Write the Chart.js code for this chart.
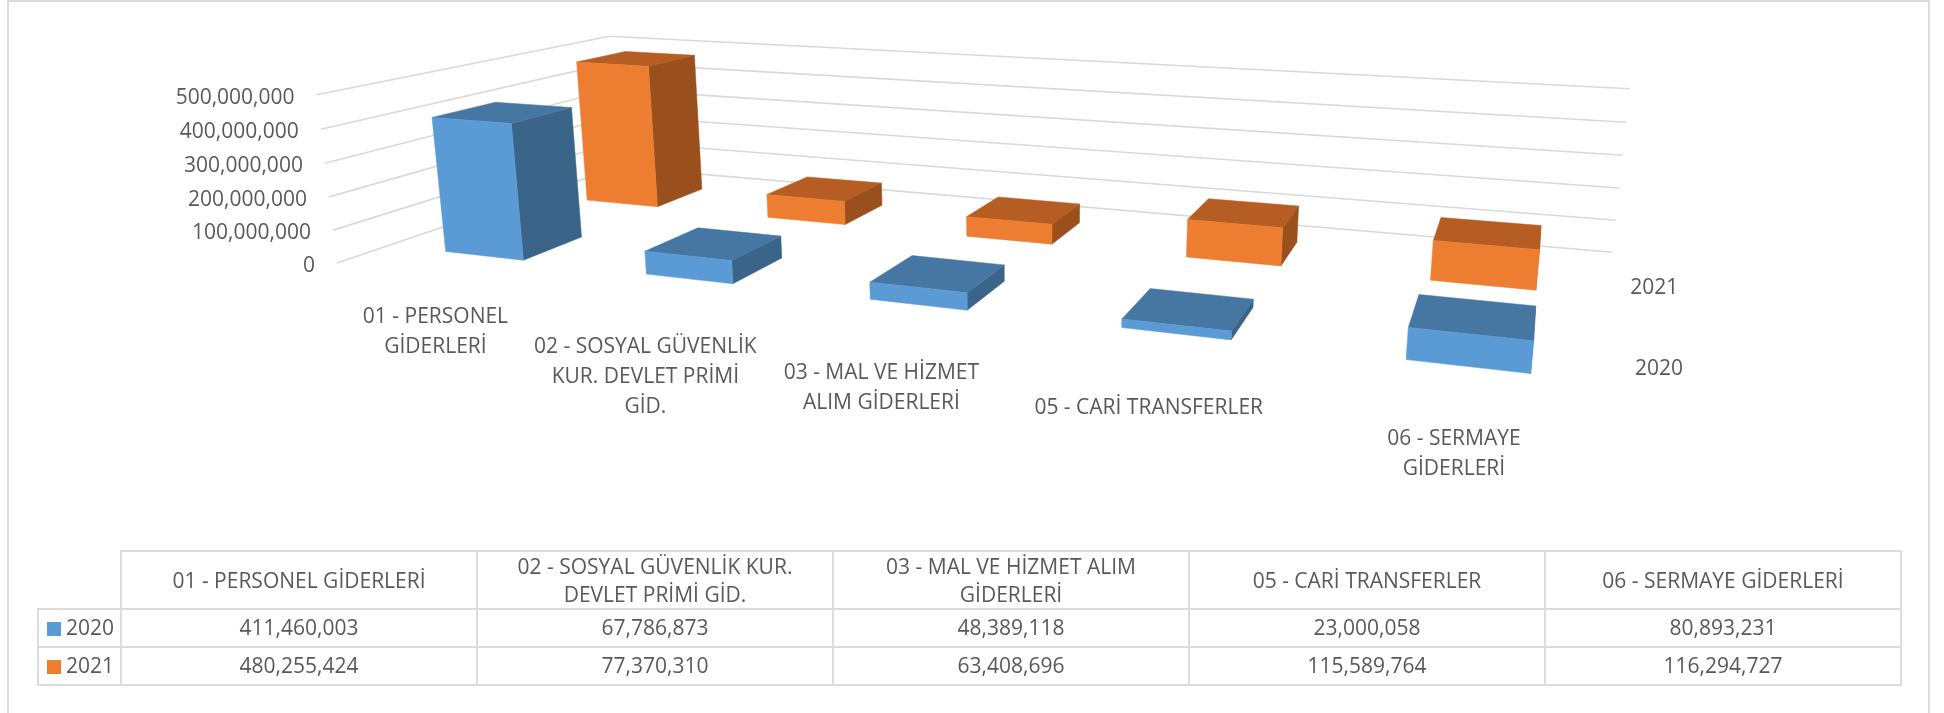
<!DOCTYPE html>
<html lang="tr">
<head>
<meta charset="utf-8">
<title>Giderler 2020 - 2021</title>
<script src="https://cdn.jsdelivr.net/npm/chart.js@4/dist/chart.umd.min.js"></script>
<style>
  html, body { margin: 0; padding: 0; background: #fff; }
  body { width: 1944px; height: 713px; position: relative; overflow: hidden; font-family: "Open Sans", sans-serif; color: #595959; }
  #frame { position: absolute; left: 7px; top: 0; width: 1923px; height: 713px; border: 2px solid #DCDCDC; border-bottom: 0; box-sizing: border-box; }
  #chart { position: absolute; left: 0; top: 0; }
  #dataTable { position: absolute; left: 37px; top: 550px; width: 1865px; table-layout: fixed; border-collapse: collapse; font-size: 21px; line-height: 28px; text-align: center; }
  #dataTable td, #dataTable th { border: 2px solid #DCDCDC; font-weight: 400; box-sizing: border-box; }
  #dataTable th { padding: 0 8px; }
  #dataTable td { padding: 0 8px 3px; }
  #dataTable th.blank { border-top: 0; border-left: 0; }
  #dataTable tr.head { height: 58px; }
  #dataTable tr.row { height: 38px; }
  #dataTable td.name { padding: 0 0 3px 8px; text-align: left; white-space: nowrap; }
  .key { display: inline-block; width: 14px; height: 14px; margin-right: 5px; vertical-align: -1px; }
</style>
</head>
<body>
<div id="frame"></div>
<canvas id="chart" width="1944" height="713"></canvas>
<table id="dataTable"></table>

<script>
// ─── Data ─────────────────────────────────────────────────────────────────────
const categories = [
  '01 - PERSONEL GİDERLERİ',
  '02 - SOSYAL GÜVENLİK KUR. DEVLET PRİMİ GİD.',
  '03 - MAL VE HİZMET ALIM GİDERLERİ',
  '05 - CARİ TRANSFERLER',
  '06 - SERMAYE GİDERLERİ',
];
const categoryLines = [
  ['01 - PERSONEL', 'GİDERLERİ'],
  ['02 - SOSYAL GÜVENLİK', 'KUR. DEVLET PRİMİ', 'GİD.'],
  ['03 - MAL VE HİZMET', 'ALIM GİDERLERİ'],
  ['05 - CARİ TRANSFERLER'],
  ['06 - SERMAYE', 'GİDERLERİ'],
];
const seriesNames = ['2020', '2021'];
const values2020 = [411460003, 67786873, 48389118, 23000058, 80893231];
const values2021 = [480255424, 77370310, 63408696, 115589764, 116294727];

// front / top / side shade of each series
const shades2020 = ['#5B9BD5', '#4677A3', '#3A6488'];
const shades2021 = ['#ED7D31', '#B55D22', '#9A501C'];

// ─── 3D view ──────────────────────────────────────────────────────────────────
// Perspective camera for the unit box: X along categories, Y into the page
// (one half per series), Z up the value axis.
const CAMERA = [
  [859.5, 466, -29.6, 337],
  [43, -46, -171, 263],
  [-0.267, 0.298, -0.029, 1],
];
const BAR_SHARE = 0.4;          // same gap as Excel's 150% gap depth
const LABEL_FONT = '21px "Open Sans"';
const LABEL_DROP = [42, 47, 45, 48, 42];   // category label distance below the floor edge
const TEXT_COLOR = '#595959';
const GRID_COLOR = '#D9D9D9';

function project(X, Y, Z) {
  const [a, b, w] = CAMERA;
  const d = w[0] * X + w[1] * Y + w[2] * Z + w[3];
  return {
    x: (a[0] * X + a[1] * Y + a[2] * Z + a[3]) / d,
    y: (b[0] * X + b[1] * Y + b[2] * Z + b[3]) / d,
  };
}

function fillFace(ctx, color, corners) {
  ctx.beginPath();
  corners.forEach((c, i) => {
    const p = project(c[0], c[1], c[2]);
    if (i === 0) ctx.moveTo(p.x, p.y); else ctx.lineTo(p.x, p.y);
  });
  ctx.closePath();
  ctx.fillStyle = color;
  ctx.strokeStyle = color;
  ctx.lineWidth = 0.5;
  ctx.fill();
  ctx.stroke();
}

// ─── Plugin: walls, boxes and labels ──────────────────────────────────────────
const box3d = {
  id: 'box3d',
  afterDatasetsDraw(chart) {
    const { ctx, chartArea: area, scales } = chart;
    const toX = px => (px - area.left) / area.width;
    const toZ = px => (area.bottom - px) / area.height;

    ctx.save();

    // gridlines on the side wall and back wall
    ctx.strokeStyle = GRID_COLOR;
    ctx.lineWidth = 1.6;
    scales.y.ticks.forEach(t => {
      const z = toZ(scales.y.getPixelForValue(t.value));
      const a = project(0, 0, z), b = project(0, 1, z), c = project(1, 1, z);
      ctx.beginPath();
      ctx.moveTo(a.x, a.y);
      ctx.lineTo(b.x, b.y);
      ctx.lineTo(c.x, c.y);
      ctx.stroke();
    });

    // back row first so the nearer row paints over it
    for (let s = chart.data.datasets.length - 1; s >= 0; s--) {
      const shades = chart.data.datasets[s].shades;
      const y0 = (s + (1 - BAR_SHARE) / 2) / 2;
      const y1 = y0 + BAR_SHARE / 2;
      chart.getDatasetMeta(s).data.forEach(bar => {
        const x0 = toX(bar.x - bar.width / 2);
        const x1 = toX(bar.x + bar.width / 2);
        const z = toZ(bar.y);
        fillFace(ctx, shades[2], [[x1, y0, 0], [x1, y1, 0], [x1, y1, z], [x1, y0, z]]);
        fillFace(ctx, shades[1], [[x0, y0, z], [x1, y0, z], [x1, y1, z], [x0, y1, z]]);
        fillFace(ctx, shades[0], [[x0, y0, 0], [x1, y0, 0], [x1, y0, z], [x0, y0, z]]);
      });
    }

    ctx.font = LABEL_FONT;
    ctx.fillStyle = TEXT_COLOR;
    ctx.textBaseline = 'middle';

    // value axis labels sit off the front end of each gridline
    ctx.textAlign = 'right';
    scales.y.ticks.forEach(t => {
      const p = project(0, 0, toZ(scales.y.getPixelForValue(t.value)));
      ctx.fillText(t.label, p.x - 22, p.y + 3);
    });

    // category labels below the front edge of the floor
    ctx.textAlign = 'center';
    categoryLines.forEach((lines, i) => {
      const X = toX(scales.x.getPixelForValue(i));
      const p = project(X, 0, 0);
      lines.forEach((line, n) => ctx.fillText(line, p.x + 2 - 11 * X, p.y + LABEL_DROP[i] + n * 30));
    });

    // series labels at the right edge of the floor
    seriesNames.forEach((name, s) => {
      const p = project(1, (s + 0.5) / 2, 0);
      ctx.fillText(name, p.x + 33 + 5 * s, p.y + 4);
    });

    ctx.restore();
  }
};

new Chart(document.getElementById('chart'), {
  type: 'bar',
  plugins: [box3d],
  data: {
    labels: categories,
    datasets: [
      { label: seriesNames[0], data: values2020, shades: shades2020, backgroundColor: 'transparent', grouped: false, barPercentage: BAR_SHARE, categoryPercentage: 1 },
      { label: seriesNames[1], data: values2021, shades: shades2021, backgroundColor: 'transparent', grouped: false, barPercentage: BAR_SHARE, categoryPercentage: 1 },
    ]
  },
  options: {
    responsive: false,
    animation: false,
    layout: { padding: 0 },
    plugins: { legend: { display: false }, tooltip: { enabled: false } },
    scales: {
      x: { display: false },
      y: {
        display: false, min: 0, max: 500000000,
        ticks: { stepSize: 100000000, callback: v => v.toLocaleString('en-US') }
      }
    }
  }
});

// ─── Data table ───────────────────────────────────────────────────────────────
function renderTable() {
  const headCells = categories.map(c => `<th>${c}</th>`).join('');
  const rowHtml = (name, values, color) => `
    <tr class="row">
      <td class="name"><span class="key" style="background:${color}"></span>${name}</td>
      ${values.map(v => `<td>${v.toLocaleString('en-US')}</td>`).join('')}
    </tr>`;
  document.getElementById('dataTable').innerHTML = `
    <colgroup><col style="width:83px">${categories.map(() => '<col>').join('')}</colgroup>
    <tr class="head"><th class="blank"></th>${headCells}</tr>
    ${rowHtml(seriesNames[0], values2020, shades2020[0])}
    ${rowHtml(seriesNames[1], values2021, shades2021[0])}`;
}
renderTable();
</script>
</body>
</html>
